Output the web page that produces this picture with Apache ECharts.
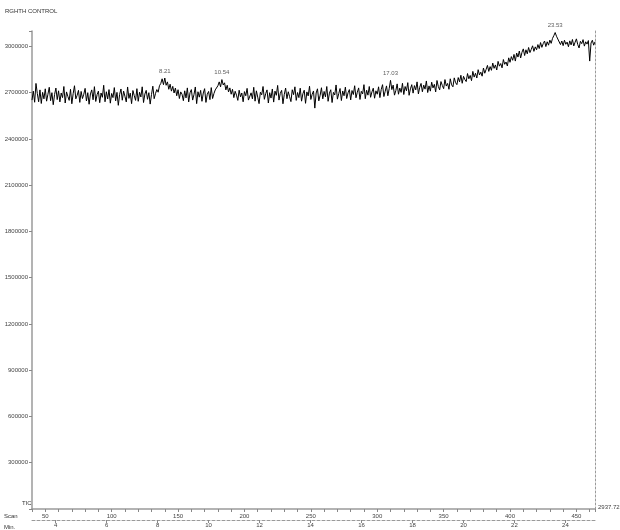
<!DOCTYPE html>
<html>
<head>
<meta charset="utf-8">
<script src="https://cdn.jsdelivr.net/npm/echarts@6/dist/echarts.min.js"></script>
<style>html,body{margin:0;padding:0;background:#fff}#c{width:620px;height:530px}</style>
</head>
<body>
<div id="c"></div>
<script>
// ---- data ----
const sampleName = 'RGHTH CONTROL';
const firstScan = 40;
// TIC abundance per scan (in thousands), scans 40..464
const ticThousands = [
2652,2710,2638,2760,2695,2641,2718,2630,2702,2660,2725,2645,2690,2735,2648,2700,2622,2688,2730,2655,
2712,2640,2698,2668,2740,2633,2705,2676,2650,2722,2628,2694,2745,2660,2683,2715,2637,2708,2662,2690,
2728,2646,2700,2625,2692,2718,2654,2739,2643,2687,2710,2635,2698,2670,2748,2641,2706,2659,2720,2632,
2695,2668,2733,2647,2702,2618,2689,2724,2651,2710,2676,2640,2737,2663,2697,2629,2714,2681,2650,2726,
2644,2703,2672,2738,2636,2691,2715,2657,2700,2626,2688,2742,2661,2694,2720,2703,2745,2760,2790,2752,
2795,2748,2770,2722,2755,2710,2741,2698,2730,2680,2719,2662,2705,2690,2648,2712,2666,2731,2640,2699,
2720,2652,2688,2737,2629,2706,2671,2715,2644,2698,2726,2637,2690,2708,2655,2733,2662,2694,2718,2710,
2745,2770,2738,2785,2750,2764,2718,2748,2705,2731,2690,2722,2668,2709,2684,2650,2716,2673,2698,2641,
2707,2680,2728,2652,2648,2699,2660,2735,2645,2712,2671,2629,2703,2686,2740,2657,2694,2718,2633,2700,
2665,2724,2639,2710,2683,2747,2652,2696,2715,2628,2689,2730,2661,2706,2674,2642,2719,2687,2738,2650,
2701,2668,2729,2645,2693,2716,2631,2705,2679,2742,2656,2690,2711,2600,2698,2725,2647,2683,2732,2660,
2708,2673,2740,2644,2697,2719,2636,2702,2685,2750,2658,2693,2727,2649,2711,2680,2736,2662,2699,2720,
2653,2714,2688,2745,2667,2703,2731,2656,2709,2692,2752,2661,2716,2684,2740,2670,2705,2729,2664,2712,
2690,2738,2668,2721,2752,2675,2709,2744,2680,2726,2780,2720,2749,2684,2713,2757,2690,2730,2702,2761,
2688,2740,2712,2765,2683,2725,2752,2697,2746,2718,2770,2692,2735,2760,2706,2749,2723,2776,2701,2744,
2710,2768,2731,2754,2705,2779,2740,2718,2772,2747,2726,2785,2743,2760,2722,2790,2751,2738,2796,2765,
2752,2798,2770,2813,2761,2806,2785,2772,2824,2790,2812,2778,2838,2801,2826,2795,2849,2815,2833,2807,
2860,2826,2851,2877,2838,2869,2845,2892,2858,2880,2847,2903,2872,2889,2861,2915,2884,2899,2873,2926,
2897,2934,2910,2948,2905,2957,2931,2970,2925,2962,2984,2941,2978,2952,2993,2960,2981,3004,2968,2997,
2978,3012,2986,3025,2994,3018,3035,2999,3030,3008,3041,3020,3052,3070,3090,3066,3048,3040,3012,3035,
3005,3040,3014,3028,2998,3036,3010,3045,3003,3027,3049,3012,2990,3033,3018,3044,3002,3030,3015,3038,
2905,3022,3040,3008,3030
];
const peakLabels = ['8.21', '10.54', '17.03', '23.53'];
const peakScans = [140, 183, 310, 434];
const minuteTicks = [4, 6, 8, 10, 12, 14, 16, 18, 20, 22, 24];
const scanRange = [40, 464];
const timeRange = [3.073, 25.16];   // minutes at scanRange ends
const yTickStep = 300000;
const yMax = 3100000;
const rightLabel = '2937.72';

// ---- build ----
const lineData = ticThousands.map((v, i) => [firstScan + i, v * 1000]);
const peakData = peakScans.map((s, i) => ({ value: [s, ticThousands[s - firstScan] * 1000], name: peakLabels[i] }));

const FONT = 'Liberation Sans, Arial, sans-serif';
const chart = echarts.init(document.getElementById('c'), null, { renderer: 'canvas' });
chart.setOption({
  animation: false,
  backgroundColor: '#ffffff',
  grid: { left: 32, right: 25, top: 31, bottom: 21, containLabel: false, outerBoundsMode: 'none' },
  xAxis: [{
    type: 'value', min: scanRange[0], max: scanRange[1], interval: 10, position: 'bottom',
    axisLine: { show: true, onZero: false, lineStyle: { color: '#9a9a9a', width: 1.5 } },
    axisTick: { show: true, length: 3, lineStyle: { color: '#888' } },
    axisLabel: { fontSize: 6, color: '#444', fontFamily: FONT, margin: 4,
      formatter: v => (v % 50 === 0 ? String(v) : '') },
    splitLine: { show: false }
  }, {
    type: 'value', min: timeRange[0], max: timeRange[1], position: 'bottom', offset: 11,
    axisLine: { show: true, onZero: false, lineStyle: { color: '#9a9a9a', width: 1, type: [3, 2] } },
    axisTick: { show: true, length: 3, customValues: minuteTicks, lineStyle: { color: '#888' } },
    axisLabel: { fontSize: 6, color: '#444', fontFamily: FONT, margin: 2, customValues: minuteTicks,
      formatter: v => String(v) },
    splitLine: { show: false }
  }],
  yAxis: [{
    type: 'value', min: 0, max: yMax, interval: yTickStep, position: 'left',
    axisLine: { show: true, lineStyle: { color: '#9a9a9a', width: 1.5 } },
    axisTick: { show: true, length: 3, lineStyle: { color: '#888' } },
    axisLabel: { fontSize: 6, color: '#444', fontFamily: FONT, margin: 4,
      formatter: v => (v > 0 && v % yTickStep === 0 ? String(v) : '') },
    splitLine: { show: false }
  }, {
    type: 'value', min: 0, max: yMax, position: 'right',
    axisLine: { show: true, lineStyle: { color: '#9a9a9a', width: 1, type: [2, 2] } },
    axisTick: { show: false }, axisLabel: { show: false }, splitLine: { show: false }
  }],
  series: [{
    type: 'line', data: lineData, xAxisIndex: 0, yAxisIndex: 0,
    showSymbol: false, symbol: 'none', lineStyle: { color: '#000', width: 1 }, z: 3
  }, {
    type: 'scatter', data: peakData, xAxisIndex: 0, yAxisIndex: 0,
    symbolSize: 0, z: 4,
    label: { show: true, position: 'top', distance: 4, fontSize: 6, color: '#333', fontFamily: FONT,
      formatter: p => p.name }
  }],
  graphic: [
    { type: 'text', left: 5, top: 8, style: { text: sampleName, fontSize: 6, fill: '#333', fontFamily: FONT } },
    { type: 'text', left: 22, top: 500, style: { text: 'TIC', fontSize: 6, fill: '#333', fontFamily: FONT } },
    { type: 'text', left: 4, top: 513, style: { text: 'Scan', fontSize: 6, fill: '#333', fontFamily: FONT } },
    { type: 'text', left: 4, top: 524, style: { text: 'Min.', fontSize: 6, fill: '#333', fontFamily: FONT } },
    { type: 'text', left: 598, top: 504, style: { text: rightLabel, fontSize: 6, fill: '#444', fontFamily: FONT } }
  ]
});
</script>
</body>
</html>
